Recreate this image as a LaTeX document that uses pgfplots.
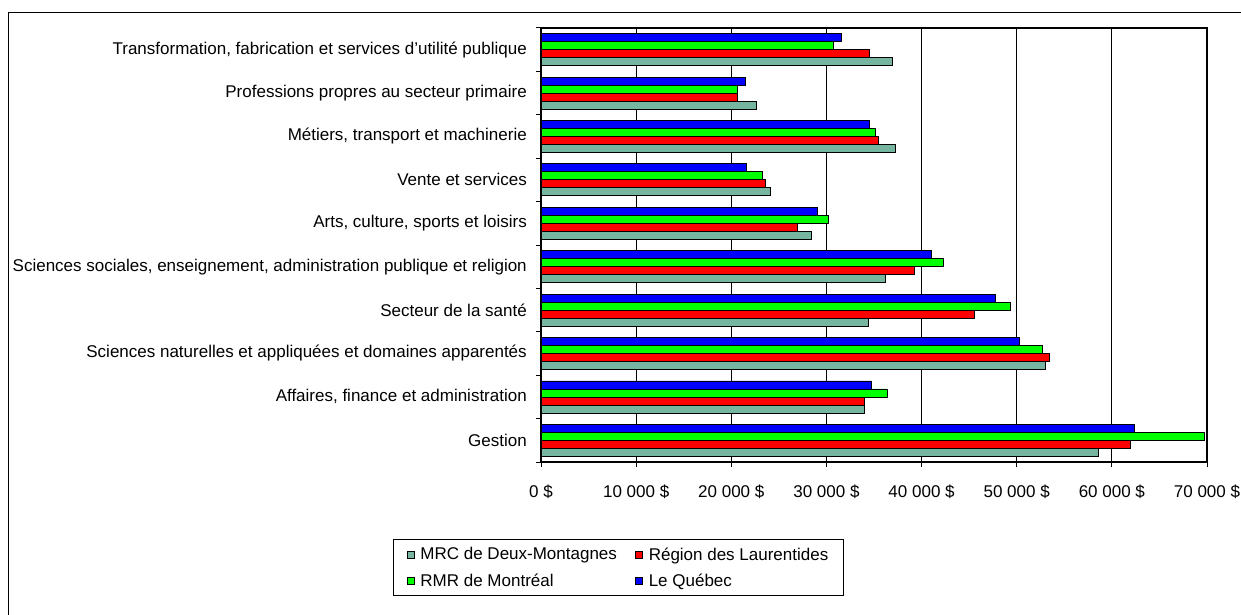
\documentclass[border=0pt]{standalone}
\usepackage{fontspec}
\setmainfont{Liberation Sans}
\usepackage{pgfplots}
\usepackage{pgfplotstable}
\pgfplotsset{compat=1.18}
\definecolor{cgray}{RGB}{118,182,160}
\definecolor{cred}{RGB}{255,0,0}
\definecolor{cgreen}{RGB}{0,255,0}
\definecolor{cblue}{RGB}{0,0,255}
\pgfplotstableread{
y gray red green blue
0 58600 61900 69700 62400
1 34000 34000 36400 34700
2 53000 53400 52700 50300
3 34400 45500 49300 47800
4 36200 39200 42300 41000
5 28400 26900 30200 29000
6 24100 23600 23300 21600
7 37300 35500 35100 34500
8 22600 20600 20600 21500
9 36900 34500 30700 31600
}\datatable
\begin{document}
\begin{tikzpicture}[x=1pt,y=1pt]
\useasboundingbox (0,0) rectangle (1241,-615);
\draw[line width=1.5pt] (8.5,-620) -- (8.5,-12.5) -- (1250,-12.5);
\begin{axis}[
  at={(541pt,-462pt)}, anchor=south west,
  scale only axis, width=666pt, height=434pt,
  xbar=0pt, bar width=8pt,
  xmin=0, xmax=70000, ymin=-0.5, ymax=9.5,
  xtick={0,10000,...,70000},
  xticklabels={0 \$,10 000 \$,20 000 \$,30 000 \$,40 000 \$,50 000 \$,60 000 \$,70 000 \$},
  scaled x ticks=false,
  ytick={-0.5,0.5,...,9.5},
  yticklabels={},
  extra y ticks={0,1,2,3,4,5,6,7,8,9},
  extra y tick labels={Gestion,{Affaires, finance et administration},Sciences naturelles et appliquées et domaines apparentés,Secteur de la santé,{Sciences sociales, enseignement, administration publique et religion},{Arts, culture, sports et loisirs},Vente et services,{Métiers, transport et machinerie},Professions propres au secteur primaire,{Transformation, fabrication et services d'utilité publique}},
  extra y tick style={tick style={draw=none}, yticklabel style={anchor=east, inner sep=0pt, xshift=-9pt}},
  xmajorgrids, major grid style={black, line width=1pt},
  tick align=outside, xtick pos=bottom, ytick pos=left,
  major tick length=5pt,
  tick style={black, line width=1pt},
  axis line style={black, line width=1.2pt},
  tick label style={font=\fontsize{17}{20}\selectfont},
  xticklabel style={yshift=-14pt},
  legend columns=2,
  legend cell align=left,
  legend style={at={(-0.222,-0.1774)}, anchor=north west, draw=black, line width=1pt,
    font=\fontsize{17}{20}\selectfont, inner xsep=13pt, inner ysep=6pt,
    /tikz/every even column/.append style={column sep=16pt},
    row sep=8pt},
  legend image code/.code={\draw[#1,draw=black,line width=0.8pt] (0pt,-3.5pt) rectangle (7pt,3.5pt); \path (11pt,0pt);},
  every axis plot/.append style={draw=black, line width=0.8pt},
]
\addplot[fill=cgray] table[x=gray,y=y]{\datatable};
\addplot[fill=cred] table[x=red,y=y]{\datatable};
\addplot[fill=cgreen] table[x=green,y=y]{\datatable};
\addplot[fill=cblue] table[x=blue,y=y]{\datatable};
\legend{MRC de Deux-Montagnes,Région des Laurentides,RMR de Montréal,Le Québec}
\end{axis}
\end{tikzpicture}
\end{document}
